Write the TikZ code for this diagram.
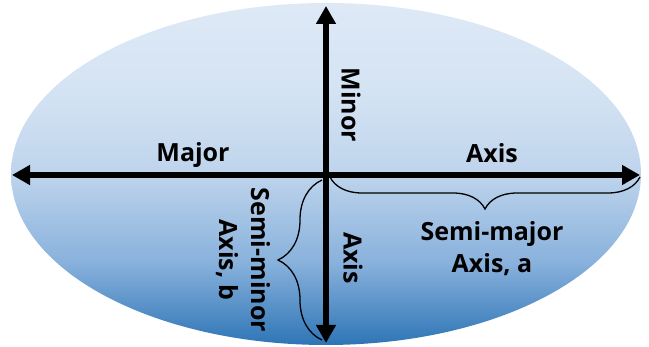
\documentclass[tikz,border=0pt]{standalone}
\usepackage{fontspec}
\setmainfont{Open Sans}
\usepackage{xcolor}
\usetikzlibrary{arrows.meta, decorations.pathreplacing}

\definecolor{elltop}{RGB}{222,233,246}
\definecolor{ellhigh}{RGB}{212,227,243}
\definecolor{ellmid}{RGB}{190,212,236}
\definecolor{elllow}{RGB}{136,177,220}
\definecolor{ellbot}{RGB}{46,117,182}
\pgfdeclareverticalshading{ellfade}{100bp}{color(0bp)=(ellbot); color(25bp)=(ellbot); color(37bp)=(elllow); color(50bp)=(ellmid); color(62bp)=(ellhigh); color(75bp)=(elltop); color(100bp)=(elltop)}

\begin{document}
\begin{tikzpicture}[x=1pt, y=-1pt,
    axisline/.style={line width=5.5pt, {Triangle[length=18pt,width=19pt]}-{Triangle[length=18pt,width=19pt]}},
    bracket/.style={line width=1.3pt, decorate},
    lbl/.style={font=\fontsize{25}{32}\selectfont\bfseries, inner sep=0pt, align=center}]
  \useasboundingbox (0,0) rectangle (649,347);

  % Ellipse
  \shade[shading=ellfade] (326,174) ellipse [x radius=315pt, y radius=171pt];

  % Axis end points
  \coordinate (west) at (12,175);
  \coordinate (east) at (640,175);
  \coordinate (north) at (326,6);
  \coordinate (south) at (326,343);

  % Major and minor axes
  \draw[axisline] (west) -- (east);
  \draw[axisline] (north) -- (south);

  % Semi-major brace
  \coordinate (majA) at (330,177);
  \coordinate (majB) at (640,177);
  \draw[bracket, decoration={brace, mirror, amplitude=32pt}] (majA) -- (majB);

  % Semi-minor brace
  \coordinate (minA) at (322,180);
  \coordinate (minB) at (322,340);
  \draw[bracket, decoration={brace, mirror, amplitude=44pt}] (minA) -- (minB);

  % Labels
  \node[lbl] (major) at (193,155) {Major};
  \node[lbl] (axisR) at (492,153) {Axis};
  \node[lbl, rotate=-90] (minor) at (351,105) {Minor};
  \node[lbl, rotate=-90] (axisB) at (353,258) {Axis};
  \node[lbl] (semimaj) at (492,249) {Semi-major\\Axis, a};
  \node[lbl, rotate=-90] (semimin) at (243,260) {Semi-minor\\Axis, b};
\end{tikzpicture}
\end{document}
